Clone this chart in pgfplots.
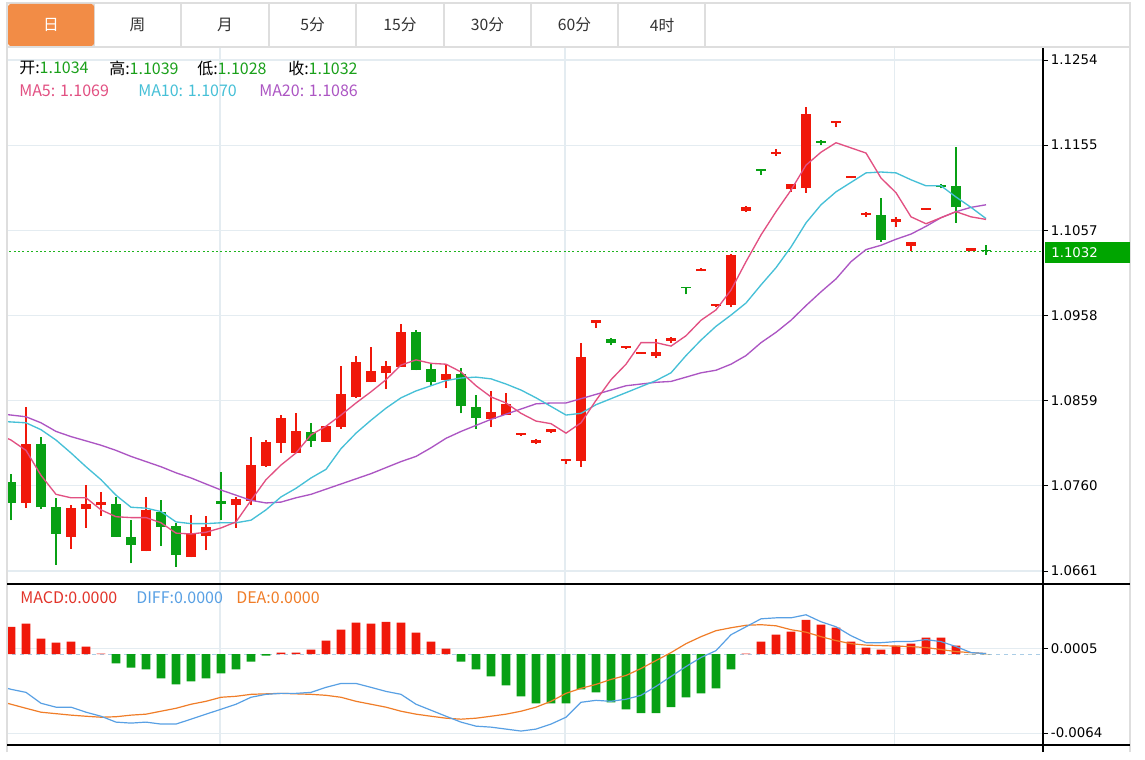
\documentclass[border=0pt]{standalone}
\usepackage{pgfplots}
\pgfplotsset{compat=1.18}
\usepackage{pgfplotstable}
\usepackage{fontspec}
\setmainfont{DejaVu Sans}
\newfontfamily\cjk{Noto Sans CJK SC}

\definecolor{cred}{RGB}{240,24,10}
\definecolor{cgreen}{RGB}{8,160,20}
\definecolor{hgreen}{RGB}{26,160,26}
\definecolor{ma5c}{RGB}{226,80,130}
\definecolor{ma10c}{RGB}{70,192,215}
\definecolor{ma20c}{RGB}{172,85,195}
\definecolor{macdc}{RGB}{226,52,42}
\definecolor{diffc}{RGB}{88,160,228}
\definecolor{deac}{RGB}{240,125,40}
\definecolor{gridc}{RGB}{228,236,241}
\definecolor{tabb}{RGB}{222,222,222}
\definecolor{taborange}{RGB}{242,140,70}
\definecolor{boxg}{RGB}{0,165,0}
\definecolor{dotg}{RGB}{30,180,30}
\definecolor{zeroc}{RGB}{170,205,230}

\pgfplotstableread{
k O H L C
1 1.0740 1.0851 1.0734 1.0808
4 1.0701 1.0738 1.0687 1.0734
5 1.0733 1.0761 1.0711 1.0739
6 1.0738 1.0753 1.0725 1.0741
9 1.0684 1.0747 1.0684 1.0732
12 1.0677 1.0726 1.0677 1.0704
13 1.0702 1.0725 1.0685 1.0712
15 1.0738 1.0747 1.0711 1.0745
16 1.0742 1.0817 1.0738 1.0784
17 1.0783 1.0813 1.0782 1.0811
18 1.0810 1.0842 1.0798 1.0839
19 1.0798 1.0844 1.0798 1.0823
21 1.0811 1.0829 1.0811 1.0829
22 1.0828 1.0899 1.0826 1.0866
23 1.0863 1.0911 1.0862 1.0904
24 1.0880 1.0921 1.0880 1.0893
25 1.0891 1.0905 1.0872 1.0899
26 1.0898 1.0948 1.0898 1.0938
29 1.0883 1.0901 1.0873 1.0890
32 1.0837 1.0870 1.0828 1.0846
33 1.0842 1.0868 1.0842 1.0855
34 1.0819 1.0821 1.0818 1.0821
35 1.0810 1.0814 1.0808 1.0813
36 1.0822 1.0826 1.0821 1.0826
37 1.0789 1.0791 1.0785 1.0791
38 1.0789 1.0926 1.0782 1.0909
39 1.0949 1.0952 1.0943 1.0952
41 1.0920 1.0922 1.0919 1.0922
42 1.0913 1.0915 1.0913 1.0915
43 1.0911 1.0930 1.0908 1.0915
44 1.0928 1.0933 1.0926 1.0931
46 1.1009 1.1013 1.1009 1.1011
47 1.0969 1.0971 1.0967 1.0971
48 1.0970 1.1029 1.0967 1.1028
49 1.1079 1.1085 1.1078 1.1083
51 1.1145 1.1151 1.1143 1.1147
52 1.1104 1.1110 1.1101 1.1110
53 1.1105 1.1199 1.1100 1.1191
55 1.1181 1.1183 1.1176 1.1182
56 1.1117 1.1118 1.1117 1.1118
57 1.1074 1.1078 1.1072 1.1076
59 1.1066 1.1072 1.1060 1.1069
60 1.1038 1.1043 1.1032 1.1043
61 1.1080 1.1082 1.1080 1.1082
64 1.1032 1.1036 1.1032 1.1036
}\upC

\pgfplotstableread{
k O H L C
0 1.0764 1.0774 1.0720 1.0740
2 1.0808 1.0817 1.0733 1.0735
3 1.0735 1.0746 1.0668 1.0704
7 1.0739 1.0747 1.0701 1.0701
8 1.0701 1.0720 1.0670 1.0691
10 1.0730 1.0743 1.0690 1.0712
11 1.0713 1.0717 1.0666 1.0680
14 1.0742 1.0776 1.0720 1.0739
20 1.0822 1.0833 1.0805 1.0812
27 1.0938 1.0941 1.0894 1.0894
28 1.0895 1.0901 1.0876 1.0880
30 1.0890 1.0897 1.0844 1.0852
31 1.0851 1.0865 1.0826 1.0839
40 1.0930 1.0931 1.0923 1.0926
45 1.0991 1.0991 1.0982 1.0989
50 1.1128 1.1128 1.1121 1.1125
54 1.1159 1.1161 1.1155 1.1158
58 1.1074 1.1094 1.1043 1.1045
62 1.1109 1.1110 1.1105 1.1107
63 1.1108 1.1153 1.1065 1.1083
65 1.1034 1.1039 1.1028 1.1032
}\dnC

\pgfplotstableread{
k a b c
-1 1.0821 1.0835 1.0844
0 1.0813 1.0834 1.0842
1 1.0801 1.0833 1.0840
2 1.0772 1.0825 1.0833
3 1.0750 1.0813 1.0823
4 1.0746 1.0798 1.0817
5 1.0746 1.0782 1.0812
6 1.0732 1.0767 1.0807
7 1.0724 1.0749 1.0801
8 1.0723 1.0735 1.0794
9 1.0723 1.0734 1.0788
10 1.0717 1.0730 1.0782
11 1.0705 1.0718 1.0775
12 1.0704 1.0716 1.0769
13 1.0706 1.0716 1.0762
14 1.0711 1.0717 1.0755
15 1.0718 1.0717 1.0749
16 1.0743 1.0720 1.0743
17 1.0767 1.0732 1.0740
18 1.0784 1.0747 1.0741
19 1.0798 1.0757 1.0746
20 1.0819 1.0769 1.0750
21 1.0829 1.0779 1.0756
22 1.0842 1.0803 1.0762
23 1.0856 1.0821 1.0768
24 1.0869 1.0836 1.0774
25 1.0883 1.0850 1.0781
26 1.0900 1.0862 1.0788
27 1.0906 1.0870 1.0794
28 1.0902 1.0876 1.0804
29 1.0901 1.0882 1.0815
30 1.0892 1.0885 1.0823
31 1.0876 1.0886 1.0830
32 1.0863 1.0884 1.0837
33 1.0856 1.0878 1.0843
34 1.0844 1.0871 1.0849
35 1.0835 1.0862 1.0855
36 1.0832 1.0852 1.0856
37 1.0821 1.0842 1.0856
38 1.0833 1.0844 1.0861
39 1.0859 1.0854 1.0866
40 1.0883 1.0861 1.0871
41 1.0901 1.0868 1.0876
42 1.0926 1.0875 1.0878
43 1.0926 1.0882 1.0880
44 1.0922 1.0891 1.0881
45 1.0934 1.0911 1.0886
46 1.0952 1.0929 1.0891
47 1.0964 1.0945 1.0894
48 1.0987 1.0958 1.0901
49 1.1020 1.0972 1.0911
50 1.1051 1.0993 1.0926
51 1.1078 1.1013 1.0938
52 1.1103 1.1037 1.0952
53 1.1132 1.1065 1.0969
54 1.1147 1.1086 1.0985
55 1.1158 1.1101 1.1000
56 1.1152 1.1112 1.1020
57 1.1146 1.1123 1.1034
58 1.1117 1.1124 1.1039
59 1.1100 1.1123 1.1046
60 1.1072 1.1115 1.1052
61 1.1064 1.1108 1.1061
62 1.1071 1.1108 1.1071
63 1.1078 1.1095 1.1078
64 1.1072 1.1083 1.1083
65 1.1069 1.1070 1.1086
}\maT

\pgfplotstableread{
k m diff dea
-1 0 -0.00256 -0.00378
0 0.00223 -0.00288 -0.00410
1 0.00248 -0.00313 -0.00443
2 0.00126 -0.00402 -0.00475
3 0.00093 -0.00434 -0.00487
4 0.00102 -0.00434 -0.00499
5 0.00061 -0.00475 -0.00508
6 0.00004 -0.00508 -0.00516
7 -0.00077 -0.00556 -0.00512
8 -0.00110 -0.00564 -0.00499
9 -0.00126 -0.00556 -0.00491
10 -0.00199 -0.00572 -0.00467
11 -0.00248 -0.00572 -0.00443
12 -0.00223 -0.00532 -0.00410
13 -0.00199 -0.00491 -0.00386
14 -0.00158 -0.00451 -0.00353
15 -0.00126 -0.00410 -0.00345
16 -0.00061 -0.00353 -0.00329
17 -0.00012 -0.00329 -0.00325
18 0.00012 -0.00321 -0.00321
19 0.00012 -0.00321 -0.00325
20 0.00037 -0.00313 -0.00329
21 0.00110 -0.00272 -0.00337
22 0.00199 -0.00240 -0.00353
23 0.00256 -0.00240 -0.00386
24 0.00248 -0.00272 -0.00410
25 0.00264 -0.00305 -0.00434
26 0.00256 -0.00329 -0.00467
27 0.00175 -0.00410 -0.00491
28 0.00102 -0.00459 -0.00508
29 0.00045 -0.00508 -0.00524
30 -0.00061 -0.00556 -0.00532
31 -0.00126 -0.00589 -0.00524
32 -0.00183 -0.00597 -0.00508
33 -0.00256 -0.00613 -0.00491
34 -0.00345 -0.00629 -0.00467
35 -0.00402 -0.00613 -0.00434
36 -0.00402 -0.00572 -0.00386
37 -0.00402 -0.00516 -0.00321
38 -0.00288 -0.00394 -0.00280
39 -0.00313 -0.00378 -0.00248
40 -0.00394 -0.00386 -0.00207
41 -0.00451 -0.00369 -0.00175
42 -0.00483 -0.00337 -0.00118
43 -0.00483 -0.00264 -0.00053
44 -0.00434 -0.00183 0.00012
45 -0.00353 -0.00102 0.00085
46 -0.00321 -0.00028 0.00142
47 -0.00280 0.00028 0.00191
48 -0.00126 0.00158 0.00215
49 0.00004 0.00223 0.00235
50 0.00102 0.00288 0.00240
51 0.00158 0.00296 0.00231
52 0.00183 0.00296 0.00199
53 0.00280 0.00321 0.00179
54 0.00240 0.00264 0.00142
55 0.00215 0.00223 0.00110
56 0.00102 0.00150 0.00085
57 0.00053 0.00093 0.00073
58 0.00037 0.00093 0.00069
59 0.00069 0.00102 0.00065
60 0.00085 0.00102 0.00061
61 0.00134 0.00118 0.00053
62 0.00134 0.00102 0.00037
63 0.00069 0.00061 0.00020
64 0 0.00012 0.00012
65 0 0.00004 0.00004
}\macdT

\pgfplotsset{
  panel/.style={
    scale only axis, width=777pt,
    xmin=-0.2667, xmax=68.8,
    axis line style={draw=none},
    xtick={13.933,36.933,58.87}, xticklabels={},
    xtick style={draw=none},
    xmajorgrids, ymajorgrids,
    grid style={gridc, line width=0.8pt},
    ytick pos=right, yticklabel pos=right,
    tick align=outside, major tick length=3.75pt,
    ytick style={black, line width=0.6pt},
    scaled y ticks=false,
    yticklabel style={font=\fontsize{10}{12}\selectfont, text=black, inner xsep=0pt, xshift=2pt},
  },
  wick/.style={only marks, no markers, mark size=0pt, forget plot,
    error bars/.cd, y dir=plus, y explicit, error mark=none,
    error bar style={line width=1pt, draw=#1}},
  body/.style={only marks, no markers, mark size=0pt, forget plot,
    error bars/.cd, y dir=plus, y explicit, error mark=none,
    error bar style={line width=6.9pt, draw=#1}},
}

\begin{document}
\begin{tikzpicture}
\begin{scope}[x=0.75pt,y=0.75pt]
\fill[white] (0,0) rectangle (1145,752);
\end{scope}

% ---------- main panel ----------
\begin{axis}[panel, at={(5.25pt,126pt)}, anchor=south west, height=402.75pt,
  ymin=1.064595, ymax=1.126908,
  ytick={1.1254,1.115517,1.105634,1.095751,1.085868,1.075985,1.066102},
  yticklabels={1.1254,1.1155,1.1057,1.0958,1.0859,1.0760,1.0661}]
\addplot[color=dotg, line width=1.1pt, dash pattern=on 1.5pt off 1.8pt, forget plot] coordinates {(-1,1.1032) (69,1.1032)};
\addplot[wick=cred] table[x=k, y=L, y error plus expr=\thisrow{H}-\thisrow{L}] {\upC};
\addplot[wick=cgreen] table[x=k, y=L, y error plus expr=\thisrow{H}-\thisrow{L}] {\dnC};
\addplot[body=cred] table[x=k, y=O, y error plus expr={max(\thisrow{C}-\thisrow{O},0.0002)}] {\upC};
\addplot[body=cgreen] table[x=k, y=C, y error plus expr={max(\thisrow{O}-\thisrow{C},0.0002)}] {\dnC};
\addplot[ma20c, line width=1pt, mark=none] table[x=k, y=c] {\maT};
\addplot[ma10c, line width=1pt, mark=none] table[x=k, y=b] {\maT};
\addplot[ma5c, line width=1pt, mark=none] table[x=k, y=a] {\maT};
\end{axis}

% ---------- MACD panel ----------
\begin{axis}[panel, at={(5.25pt,5.25pt)}, anchor=south west, height=120.75pt,
  ymin=-0.0074298, ymax=0.0057246,
  ytick={0.0004466,-0.0064554},
  yticklabels={0.0005,-0.0064}]
\addplot[zeroc, line width=0.8pt, dash pattern=on 3pt off 3pt, forget plot] coordinates {(-1,0) (69,0)};
\addplot[ybar, bar width=6.4pt, bar shift=0pt, fill=cred, draw=none, restrict y to domain=0:1] table[x=k, y=m] {\macdT};
\addplot[ybar, bar width=6.4pt, bar shift=0pt, fill=cgreen, draw=none, restrict y to domain=-1:0] table[x=k, y=m] {\macdT};
\addplot[deac, line width=0.9pt, mark=none] table[x=k, y=dea] {\macdT};
\addplot[diffc, line width=0.9pt, mark=none] table[x=k, y=diff] {\macdT};
\end{axis}

\begin{scope}[x=0.75pt,y=0.75pt]
% ---------- frame ----------
\draw[tabb, line width=0.8pt] (7,0) -- (7,705);
\draw[tabb, line width=0.8pt] (1130,0) -- (1130,749);
\draw[black, line width=0.8pt] (1043,0) -- (1043,705);
\draw[black, line width=0.8pt] (7,168) -- (1130,168);
\draw[black, line width=0.8pt] (7,7) -- (1130,7);

% ---------- tabs ----------
\draw[tabb, line width=0.8pt] (7,749) rectangle (1130,705);
\foreach \xx in {94,181,269,356,444,531,618,705} {\draw[tabb, line width=0.8pt] (\xx,749) -- (\xx,705);}
\fill[taborange, rounded corners=2pt] (8,748) rectangle (94,706);
\begin{scope}[every node/.style={inner sep=0pt, font=\cjk\fontsize{11.8}{13}\selectfont}]
\node[white] at (51,727) {日};
\node[black!80] at (137.5,727) {周};
\node[black!80] at (225,727) {月};
\node[black!80] at (312.5,727) {5分};
\node[black!80] at (400,727) {15分};
\node[black!80] at (487.5,727) {30分};
\node[black!80] at (574.5,727) {60分};
\node[black!80] at (662,727) {4时};
\end{scope}

% ---------- header texts ----------
\begin{scope}[every node/.style={inner sep=0pt, anchor=west, font=\cjk\fontsize{12}{14}\selectfont}]
\node at (19,684) {开:\textcolor{hgreen}{1.1034}};
\node at (109,684) {高:\textcolor{hgreen}{1.1039}};
\node at (197,684) {低:\textcolor{hgreen}{1.1028}};
\node at (288,684) {收:\textcolor{hgreen}{1.1032}};
\node[ma5c] at (19,661) {MA5: 1.1069};
\node[ma10c] at (138,661) {MA10: 1.1070};
\node[ma20c] at (259,661) {MA20: 1.1086};
\node[macdc] at (20,154) {MACD:0.0000};
\node[diffc] at (136,154) {DIFF:0.0000};
\node[deac] at (236,154) {DEA:0.0000};
\end{scope}

% ---------- last price box ----------
\fill[boxg] (1045,510) rectangle (1130,489);
\node[white, anchor=west, inner sep=0pt, font=\fontsize{10}{12}\selectfont] at (1051,499.5) {1.1032};
\end{scope}
\end{tikzpicture}
\end{document}
